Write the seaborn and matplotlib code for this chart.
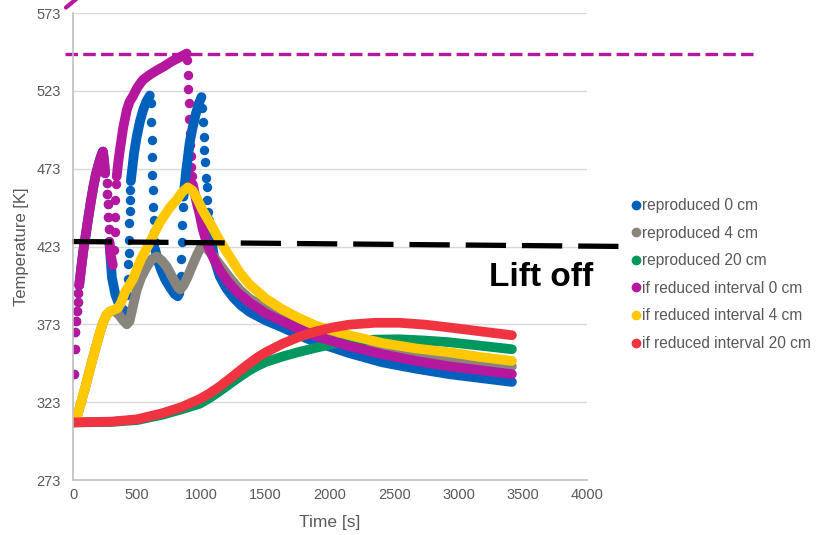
import matplotlib
matplotlib.use("Agg")
import matplotlib.pyplot as plt
from matplotlib.lines import Line2D
import pandas as pd
import seaborn as sns

# ---- values ----
# time [s] / temperature [K]; None starts a new stroke in the *_line lists,
# *_dot lists hold the isolated time steps where the temperature jumps fast
blue_line_t = [48, 65, 80, 100, 120, 140, 160, 180, 200, 218, 233, 242, 250, None,
               283, 303, 330, 360, 390, 419, None,
               450, 475, 497, 520, 545, 570, 598, None,
               640, 660, 690, 720, 753, 790, 815, 828, None,
               860, 880, 908, 930, 955, 980, 1000, None,
               1058, 1075, 1100, 1141, 1190, 1250, 1310, 1374, 1500, 1630, 1760, 1894,
               2150, 2407, 2670, 2927, 3170, 3416]
blue_line_T = [398, 410, 420, 431, 442, 452.5, 462, 470, 476, 481, 484, 478, 470, None,
               426, 403, 392, 385.5, 382, 381, None,
               465, 483, 494, 503, 510.5, 516, 520, None,
               421, 414, 407, 401.5, 397, 392.5, 391, 393, None,
               455, 471, 489.7, 499, 508, 515, 519, None,
               440, 428, 415, 404, 396.5, 390, 385, 381, 375.5, 371, 366, 361.5,
               354.5, 348.6, 344.5, 341, 338.5, 336]
blue_dot_t = [0, 6, 12, 18, 24, 30, 36, 42,
              262, 266, 270, 274, 278,
              423, 426, 429, 432, 435, 438, 441, 444, 447,
              606, 609, 612, 615, 618, 621, 624, 627, 631, 635,
              835, 839, 843, 847, 851, 855,
              1004, 1010, 1016, 1022, 1028, 1034, 1040, 1046, 1052]
blue_dot_T = [310, 341, 357, 368, 375, 381.5, 387.5, 393,
              464, 457, 450, 442, 434,
              392, 402, 411.5, 419, 427, 438, 445.5, 453, 459.5,
              515, 503, 491.6, 480.7, 469, 459.5, 448.6, 440, 432, 426,
              398, 404, 415, 426, 437, 448.6,
              512, 503, 493.5, 485, 477, 467, 461, 453, 445]

gray_t = [0, 25, 60, 100, 150, 200, 233, 260, 287, 320, 350, 385, 419, 440, 470,
          497, 530, 575, 615, 652, 690, 730, 775, 815, 835, 860, 890, 930, 970,
          1009, 1040, 1100, 1141, 1219, 1300, 1374, 1500, 1630, 1760, 1894, 2150,
          2407, 2670, 2927, 3170, 3416]
gray_T = [310, 312, 322, 334, 350, 365, 374, 379, 381.3, 381.5, 380, 376, 373, 375,
          386, 395.4, 403, 410, 415, 416.6, 414, 410, 403, 397, 395.4, 398, 403,
          411, 418.5, 424.5, 422, 416, 411.5, 403, 395, 389.5, 383.5, 379.4, 374,
          368.5, 363, 358.3, 355, 352, 349, 346]

green_t = [0, 300, 500, 700, 850, 986, 1060, 1141, 1200, 1250, 1310, 1374, 1440,
           1500, 1630, 1760, 1894, 2020, 2150, 2350, 2540, 2740, 2927, 3170, 3416]
green_T = [310, 310.3, 311.5, 315, 318.5, 322, 325.5, 330, 333.5, 336.5, 340, 343.5,
           346.5, 348.8, 352.3, 355.3, 358, 360.3, 362, 363.2, 363.4, 362.6, 361.5,
           359.3, 357]

magenta_line_t = [48, 65, 80, 100, 120, 140, 160, 180, 200, 218, 233, 242, 250, None,
                  283, 295, 310, None,
                  340, 352, 365, 390, 419, 440, 466, 500, 543, 600, 660, 714, 770,
                  830, 885, None,
                  932, 960, 986, 1010, 1040, 1090, 1141, 1200, 1273, 1374, 1500,
                  1630, 1760, 1894, 2150, 2407, 2670, 2927, 3170, 3416]
magenta_line_T = [398, 410, 420, 431, 442, 452.5, 462, 470, 476, 481, 484, 478, 470, None,
                  426, 417, 411, None,
                  468, 477, 485, 499, 510.8, 516, 519.5, 525, 530, 533.5, 536.5, 539,
                  542, 544.5, 547, None,
                  463, 452, 443.5, 434, 425.6, 416, 408, 401, 394, 387, 380,
                  375, 370, 365.3, 359, 353.8, 349.5, 346, 343.5, 341]
magenta_dot_t = [0, 6, 12, 18, 24, 30, 36, 42,
                 262, 266, 270, 274, 278,
                 320, 323, 326, 329, 332,
                 889, 893, 897, 901, 905, 909, 913, 917, 921, 925]
magenta_dot_T = [310, 341, 357, 368, 375, 381.5, 387.5, 393,
                 464, 457, 450, 442, 434,
                 421, 432, 442, 453, 463,
                 543, 533, 524, 515, 505, 496, 488, 481, 474, 468]

yellow_t = [0, 25, 60, 100, 150, 200, 233, 260, 287, 320, 350, 375, 404, 466, 528,
            598, 675, 753, 807, 850, 893, 930, 970, 1010, 1064, 1140, 1219, 1300,
            1374, 1500, 1630, 1760, 1894, 2150, 2407, 2670, 2927, 3170, 3416]
yellow_T = [310, 312, 322, 334, 350, 365, 374, 379, 381.3, 382.3, 383.5, 387, 393.5,
            402, 414.7, 425.6, 438.4, 448, 453, 458, 461, 459, 453, 446, 438.4, 427,
            416.6, 406, 398.6, 389.5, 382.6, 377, 372, 366, 361, 357.5, 355, 352,
            349.5]

red_t = [0, 300, 500, 700, 850, 986, 1060, 1141, 1200, 1250, 1310, 1374, 1440,
         1500, 1630, 1760, 1894, 2020, 2150, 2350, 2540, 2740, 2927, 3170, 3416]
red_T = [310, 310.5, 312, 316, 320, 325, 328.5, 333, 336.8, 340, 344, 348, 352,
         355, 360.5, 365, 368.5, 371, 372.8, 374, 374, 372.8, 371, 368.5, 366]

# drawn marks on top of the chart
limit_t = [-60, 5330]          # magenta dashed limit
limit_T = [546.7, 546.7]
liftoff_t = [-8, 4325]         # black dashed lift-off line
liftoff_T = [426.2, 423.0]
stub_t = [-55, 55]             # magenta stroke leaving the top
stub_T = [576.5, 584.0]

labels = ['reproduced 0 cm', 'reproduced 4 cm', 'reproduced 20 cm',
          'if reduced interval 0 cm', 'if reduced interval 4 cm',
          'if reduced interval 20 cm']
colors = ['#0061bd', '#8a857c', '#00985f', '#b5179e', '#ffc800', '#ef3340']
x_ticks = list(range(0, 4001, 500))
y_ticks = list(range(273, 574, 50))


def strokes(t, T):
    rows, seg = [], 0
    for a, b in zip(t, T):
        if a is None:
            seg += 1
            continue
        rows.append((a, b, seg))
    return pd.DataFrame(rows, columns=['t', 'T', 'seg'])


sns.set_theme(style='white')
plt.rcParams['font.family'] = ['Liberation Sans', 'DejaVu Sans']
plt.rcParams['lines.scale_dashes'] = False

fig = plt.figure(figsize=(8.23, 5.35), dpi=100)
ax = fig.add_axes([0.0887, 0.1028, 0.6245, 0.8729])

series = [
    (blue_line_t, blue_line_T, blue_dot_t, blue_dot_T),
    (gray_t, gray_T, [], []),
    (green_t, green_T, [], []),
    (magenta_line_t, magenta_line_T, magenta_dot_t, magenta_dot_T),
    (yellow_t, yellow_T, [], []),
    (red_t, red_T, [], []),
]
for (lt, lT, dt, dT), c in zip(series, colors):
    df = strokes(lt, lT)
    sns.lineplot(data=df, x='t', y='T', units='seg', estimator=None, sort=False,
                 color=c, lw=7, solid_capstyle='round', solid_joinstyle='round',
                 ax=ax, legend=False)
    if dt:
        sns.scatterplot(x=dt, y=dT, color=c, s=46, linewidth=0, ax=ax, legend=False)

ax.plot(limit_t, limit_T, color=colors[3], lw=2.4, dashes=(9, 3.8), clip_on=False)
ax.plot(liftoff_t, liftoff_T, color='black', lw=3.8, dashes=(29, 11.5), clip_on=False)
ax.plot(stub_t, stub_T, color=colors[3], lw=3, clip_on=False)

ax.set_xlim(0, 4000)
ax.set_ylim(273, 573)
ax.set_xticks(x_ticks)
ax.set_yticks(y_ticks)
ax.yaxis.grid(True, color='#d9d9d9', lw=1)
ax.xaxis.grid(False)
ax.set_axisbelow(True)
for s in ['top', 'right']:
    ax.spines[s].set_visible(False)
for s in ['left', 'bottom']:
    ax.spines[s].set_color('#bfbfbf')
    ax.spines[s].set_linewidth(1.2)
ax.tick_params(length=0, colors='#595959', labelsize=10.5)
ax.tick_params(axis='y', pad=9)
ax.tick_params(axis='x', pad=6)

ax.set_xlabel('Time [s]', fontsize=12.5, color='#595959')
ax.set_ylabel('Temperature [K]', fontsize=12, color='#595959')
ax.xaxis.set_label_coords(0.5, -0.09)
ax.xaxis.label.set_va('center')
ax.yaxis.set_label_coords(-0.1, 0.5)
ax.yaxis.label.set_va('center')

fig.text(0.657, 0.482, 'Lift off', ha='center', va='center', fontsize=24,
         fontweight='bold', color='black')

handles = [Line2D([], [], ls='', marker='o', ms=6, color=c) for c in colors]
fig.legend(handles, labels, loc='upper left', bbox_to_anchor=(0.768, 0.630),
           frameon=False, fontsize=11.2, handlelength=0.5, handletextpad=0.12,
           labelspacing=0.81, borderpad=0, borderaxespad=0, labelcolor='#595959')

fig.savefig('out.png', dpi=100)
